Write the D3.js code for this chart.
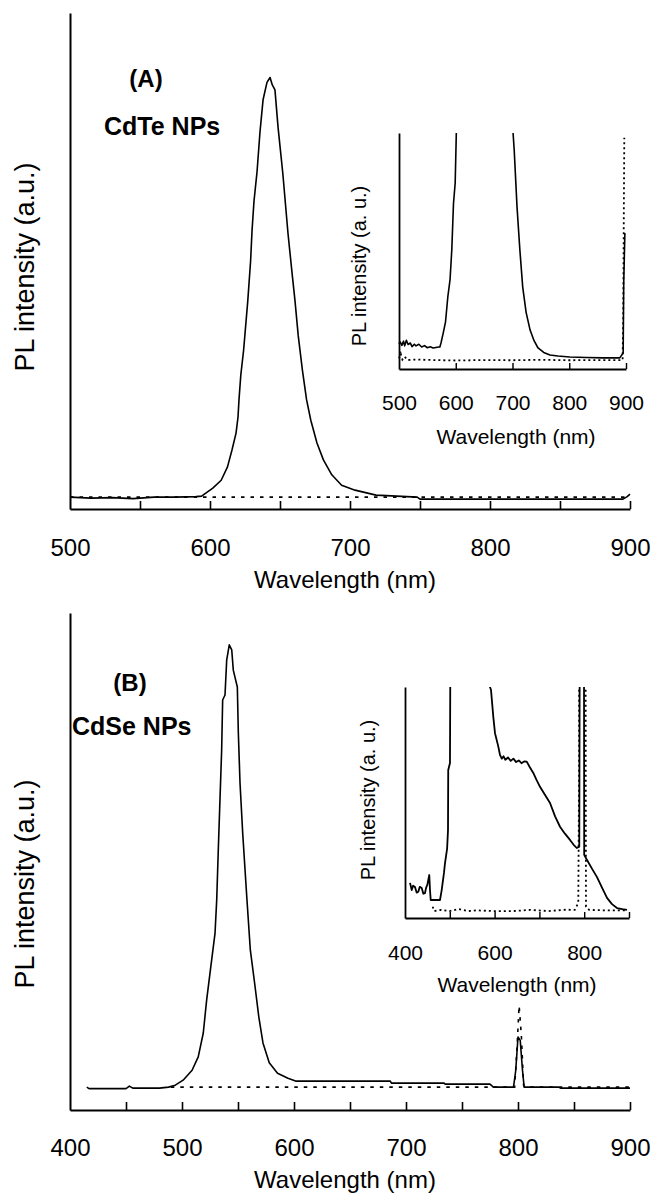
<!DOCTYPE html>
<html>
<head>
<meta charset="utf-8">
<script src="https://cdn.jsdelivr.net/npm/d3@7"></script>
<style>
  html, body { margin: 0; padding: 0; background: #fff; }
  svg { display: block; }
  text { font-family: "Liberation Sans", Arial, sans-serif; fill: #000; }
</style>
</head>
<body>
<svg id="chart" width="653" height="1195"></svg>
<script>
// ---------------- DATA (wavelength nm, intensity a.u.) ----------------
// Panel A main: CdTe NPs emission (solid) and control (dotted)
const cdteMain = [[500,2.4],[515,2.2],[530,2.3],[545,2.1],[560,2.4],[575,2.4],[590,2.5],[594,2.6],[596,3.0],[602,4.2],[608,5.8],[612.5,8.5],[615.7,11.9],[618.6,15.3],[620,18.5],[620.7,22],[622,27],[624,32],[627,42],[629,50],[630,56],[631.4,62],[633.6,68],[635.7,76],[637.9,82.5],[640.7,86],[642.9,87],[644.5,85.5],[646.4,84.5],[648.6,77],[652,67.7],[655.7,55.6],[658.6,47.6],[660.7,42],[663,35],[666,28],[669,22],[672,17.9],[676.4,13.3],[681,9.9],[687,6.9],[694,4.8],[703.6,3.8],[718.6,2.8],[748,2.4],[750,2.0],[800,2.0],[850,2.0],[895,2.0],[898,2.5],[900,3.0]];
const cdteMainCtrl = [[500,2.4],[600,2.4],[700,2.4],[800,2.4],[900,2.4]];

// Panel A inset (zoomed intensity scale)
const cdteInset = [[500,10.6],[502,11.5],[505,10],[508,11.8],[510,9.8],[513,12.2],[516,10.4],[520,11],[523,9.5],[527,10.5],[530,9.8],[535,10.5],[540,9.3],[545,9.9],[550,9.0],[555,9.4],[560,8.9],[565,9.1],[570,9.3],[572,9.3],[574,11],[578,15.3],[582,20],[586,30.5],[590,38],[593,50.4],[596,70],[599,78.8],[601,100],[603,140],[650,160],[698,140],[701,100],[703,92.8],[708,68.6],[713,50.4],[718,34.7],[724,24],[731,16.5],[738,12],[745,8.9],[755,7],[766,5.9],[780,5.5],[801,5.1],[830,4.9],[860,4.7],[889,4.7],[895,6.8],[896,36.4],[898,57.6]];
const cdteInsetCtrl = [[500,4.5],[503,6.5],[506,4.0],[510,5.2],[515,3.8],[530,4.0],[560,3.8],[600,3.6],[650,3.8],[700,3.7],[750,3.9],[800,3.7],[850,3.8],[894,3.8],[895,20],[896,60],[897,98]];

// Panel B main: CdSe NPs emission (solid) and control (dotted)
const cdseMain = [[415,4.6],[417,4.3],[450,4.3],[453,4.8],[456,4.4],[480,4.4],[488,4.6],[494,5.0],[501,6.0],[509,8.0],[514.5,10.7],[519,15.5],[522,22.1],[525.7,28.8],[529.5,35.6],[531,42.3],[532.4,52.3],[533.9,62.4],[535.4,72.4],[536.3,82.5],[538.4,83.5],[539.9,90.5],[542.2,93.6],[544.4,92.6],[545.8,88.5],[549.4,85.1],[550.3,75.9],[551.8,65.8],[554.2,55.7],[558,42.3],[561,32.2],[564.8,25.6],[568.6,18.7],[572.3,13.5],[577.9,9.5],[585.3,7.4],[594.6,6.4],[602,5.8],[686,5.8],[687,5.4],[734,5.4],[735,5.2],[775,5.2],[778,4.6],[796,4.6],[798,8],[800,14.7],[802,14],[804,8],[805.5,4.6],[836,4.6],[838,4.4],[900,4.4]];
const cdseMainCtrl = [[490,4.6],[600,4.6],[700,4.6],[797,4.6],[799,12],[801,21],[803,15],[805,5],[806,4.6],[900,4.6]];

// Panel B inset (zoomed intensity scale)
const cdseInset = [[411.2,15.2],[415,12.1],[418,14],[422.3,13.4],[426,11],[429.7,11.4],[433,13.5],[437.3,13],[441,10.5],[444.6,10.8],[447,13],[449.8,14.3],[454.2,18.6],[455.8,12.1],[457.4,7.8],[463.2,7.8],[478.1,7.8],[481.9,12.1],[487,19.5],[489.3,23.8],[494,30],[496,38.1],[496.5,64.1],[500.4,67.1],[501,100],[505,150],[585,150],[589.7,100],[592,98.7],[597.1,87.1],[600.9,80],[608.3,74.2],[612,70.6],[616,69],[620,70],[624,68.5],[630,69.5],[636,68],[642,69],[648,67.5],[654,68.2],[660,67],[666,67.8],[671.7,67.7],[678,65.5],[686.4,62.8],[693,60],[701.3,56.8],[712,53.5],[723.7,49.8],[735,44],[746,39.5],[757,36.5],[768.3,33.8],[776,31.8],[783.3,30.3],[789,30.9],[789.8,100],[790.4,150],[799.2,150],[799.6,100],[800,27.3],[806.3,25.1],[817,21.5],[828.6,17.7],[840,13],[850.9,8.7],[862,6],[873.2,4.3],[885,3.8],[895.5,3.5]];
const cdseInsetCtrl = [[461.8,4.9],[465,3.0],[480,3.5],[500,3.0],[520,3.9],[540,3.0],[560,3.3],[600,3.0],[640,3.0],[680,3.5],[720,3.0],[760,3.6],[779,3.5],[786.8,6.5],[788.5,60],[789,150],[803,150],[803.4,60],[804,4.9],[811,3.5],[850,3.3],[895,3.3]];

// Tick values
const ticksA = [550,600,650,700,750,800,850,900];
const labelsA = [500,600,700,800,900];
const ticksB = [450,500,550,600,650,700,750,800,850,900];
const labelsB = [400,500,600,700,800,900];
const ticksAInset = [600,700,800,900];
const labelsAInset = [500,600,700,800,900];
const ticksBInset = [500,600,700,800,900];
const labelsBInset = [400,600,800];

// ---------------- DRAWING ----------------
const svg = d3.select("#chart");
const FONT = '"Liberation Sans", Arial, sans-serif';

function drawPanel(cfg) {
  const x = d3.scaleLinear().domain(cfg.xDomain).range(cfg.xRange);
  const y = d3.scaleLinear().domain([0, 100]).range(cfg.yRange);
  const g = svg.append("g");

  const clipId = "clip" + cfg.id;
  svg.append("clipPath").attr("id", clipId).append("rect")
    .attr("x", cfg.xRange[0] - 2).attr("y", cfg.yRange[1])
    .attr("width", cfg.xRange[1] - cfg.xRange[0] + 4)
    .attr("height", cfg.yRange[0] - cfg.yRange[1]);

  const line = d3.line().x(d => x(d[0])).y(d => y(d[1]));
  const curves = g.append("g").attr("clip-path", `url(#${clipId})`);
  curves.append("path").datum(cfg.ctrl)
    .attr("d", line).attr("fill", "none").attr("stroke", "#000")
    .attr("stroke-width", cfg.dashWidth).attr("stroke-dasharray", cfg.dash);
  curves.append("path").datum(cfg.main)
    .attr("d", line).attr("fill", "none").attr("stroke", "#000")
    .attr("stroke-width", cfg.lineWidth).attr("stroke-linejoin", "round");

  // x axis
  const xAxis = d3.axisBottom(x)
    .tickValues(cfg.ticks.concat(cfg.labels).filter((v, i, a) => a.indexOf(v) === i).sort((a, b) => a - b))
    .tickSizeInner(-cfg.tickLen).tickSizeOuter(0).tickPadding(cfg.tickPad)
    .tickFormat(d => cfg.labels.includes(d) ? d : "");
  const gx = g.append("g").attr("transform", `translate(0,${cfg.yRange[0]})`).call(xAxis);
  gx.select(".domain").attr("stroke-width", cfg.axisWidth);
  gx.selectAll(".tick line").attr("stroke-width", cfg.axisWidth * 0.8)
    .attr("display", d => (cfg.ticks.includes(d) ? null : "none"));
  gx.selectAll(".tick text").attr("font-family", FONT).attr("font-size", cfg.tickFont).attr("fill", "#000");

  // y axis (no ticks)
  const yAxis = d3.axisLeft(y).tickValues([]).tickSizeOuter(0);
  const gy = g.append("g").attr("transform", `translate(${cfg.xRange[0]},0)`).call(yAxis);
  gy.select(".domain").attr("stroke-width", cfg.axisWidth);

  // axis titles
  g.append("text").attr("x", cfg.xTitlePos[0]).attr("y", cfg.xTitlePos[1])
    .attr("text-anchor", "middle").attr("font-size", cfg.titleFont).text("Wavelength (nm)");
  g.append("text").attr("transform", `translate(${cfg.yTitlePos[0]},${cfg.yTitlePos[1]}) rotate(-90)`)
    .attr("text-anchor", "middle").attr("font-size", cfg.yTitleFont).text(cfg.yTitle);
}

// Panel A main
drawPanel({ id: "A", xDomain: [500, 900], xRange: [70, 630], yRange: [509, 13],
  main: cdteMain, ctrl: cdteMainCtrl, ticks: ticksA, labels: labelsA,
  lineWidth: 1.6, dashWidth: 1.6, dash: "3.5,6", axisWidth: 2, tickLen: 8, tickPad: 30,
  tickFont: 24, titleFont: 24, yTitleFont: 27, xTitlePos: [345, 588], yTitlePos: [34, 267],
  yTitle: "PL intensity (a.u.)" });

// Panel A inset
drawPanel({ id: "Ai", xDomain: [500, 900], xRange: [399, 626], yRange: [369, 133],
  main: cdteInset, ctrl: cdteInsetCtrl, ticks: ticksAInset, labels: labelsAInset,
  lineWidth: 1.6, dashWidth: 1.8, dash: "2,3", axisWidth: 1.8, tickLen: 6, tickPad: 26,
  tickFont: 21, titleFont: 21, yTitleFont: 20, xTitlePos: [516, 444], yTitlePos: [366, 266],
  yTitle: "PL intensity (a. u.)" });

// Panel B main
drawPanel({ id: "B", xDomain: [400, 900], xRange: [70, 630], yRange: [1110, 613],
  main: cdseMain, ctrl: cdseMainCtrl, ticks: ticksB, labels: labelsB,
  lineWidth: 1.6, dashWidth: 1.6, dash: "3.5,6", axisWidth: 2, tickLen: 8, tickPad: 29,
  tickFont: 24, titleFont: 24, yTitleFont: 27, xTitlePos: [345, 1188], yTitlePos: [34, 884],
  yTitle: "PL intensity (a.u.)" });

// Panel B inset
drawPanel({ id: "Bi", xDomain: [400, 900], xRange: [405, 629], yRange: [918, 687],
  main: cdseInset, ctrl: cdseInsetCtrl, ticks: ticksBInset, labels: labelsBInset,
  lineWidth: 1.8, dashWidth: 1.8, dash: "2,3", axisWidth: 1.8, tickLen: 6, tickPad: 27,
  tickFont: 21, titleFont: 21, yTitleFont: 20, xTitlePos: [517, 992], yTitlePos: [375, 800],
  yTitle: "PL intensity (a. u.)" });

// Panel annotations
svg.append("text").attr("x", 146).attr("y", 87).attr("text-anchor", "middle")
  .attr("font-size", 24).attr("font-weight", "bold").text("(A)");
svg.append("text").attr("x", 104).attr("y", 135)
  .attr("font-size", 25).attr("font-weight", "bold").text("CdTe NPs");
svg.append("text").attr("x", 130).attr("y", 691).attr("text-anchor", "middle")
  .attr("font-size", 24).attr("font-weight", "bold").text("(B)");
svg.append("text").attr("x", 72).attr("y", 735)
  .attr("font-size", 25).attr("font-weight", "bold").text("CdSe NPs");
</script>
</body>
</html>
